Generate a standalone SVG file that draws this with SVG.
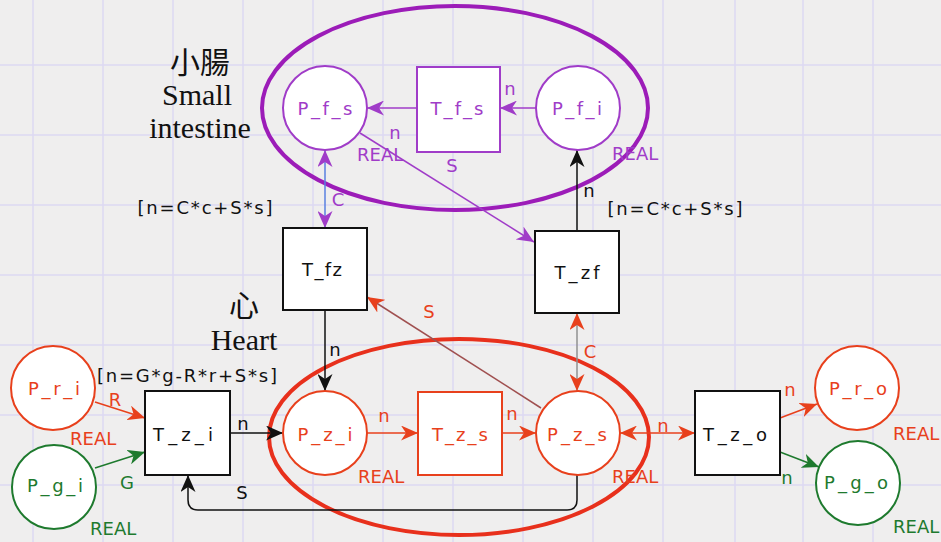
<svg xmlns="http://www.w3.org/2000/svg" width="941" height="542" viewBox="0 0 941 542">
<defs>
<style>
.grid line{stroke:#dcd8f2;stroke-width:1.5}
.lbl{font-family:"DejaVu Sans",Verdana,sans-serif;font-size:18px;text-anchor:middle}
.real{font-family:"DejaVu Sans",Verdana,sans-serif;font-size:18px}
.pu{fill:#a03cc8}.rd{fill:#e8401c}.gr{fill:#1e7a2e}.bk{fill:#111}
.node{fill:#fff;stroke-width:2}
.spu{stroke:#a03cc8}.srd{stroke:#e8401c}.sgr{stroke:#1e7a2e}.sbk{stroke:#111}
.serif{font-family:"Liberation Serif","Noto Sans CJK TC",serif;font-size:30px;fill:#111;text-anchor:middle}
.arc{fill:none;stroke-width:1.5}
</style>
<marker id="aPu" viewBox="0 0 17 15" refX="17" refY="7.5" markerWidth="17" markerHeight="15" markerUnits="userSpaceOnUse" orient="auto-start-reverse"><path d="M0,0 L17,7.5 L0,15 L5,7.5 Z" fill="#a03cc8"/></marker>
<marker id="aRd" viewBox="0 0 17 15" refX="17" refY="7.5" markerWidth="17" markerHeight="15" markerUnits="userSpaceOnUse" orient="auto-start-reverse"><path d="M0,0 L17,7.5 L0,15 L5,7.5 Z" fill="#e8401c"/></marker>
<marker id="aBk" viewBox="0 0 17 15" refX="17" refY="7.5" markerWidth="17" markerHeight="15" markerUnits="userSpaceOnUse" orient="auto-start-reverse"><path d="M0,0 L17,7.5 L0,15 L5,7.5 Z" fill="#111"/></marker>
<marker id="aGr" viewBox="0 0 17 15" refX="17" refY="7.5" markerWidth="17" markerHeight="15" markerUnits="userSpaceOnUse" orient="auto-start-reverse"><path d="M0,0 L17,7.5 L0,15 L5,7.5 Z" fill="#1e7a2e"/></marker>
</defs>
<rect width="941" height="542" fill="#efeeee"/>
<g class="grid">
<line x1="33" y1="0" x2="33" y2="542"/><line x1="103" y1="0" x2="103" y2="542"/><line x1="173" y1="0" x2="173" y2="542"/><line x1="243" y1="0" x2="243" y2="542"/><line x1="313" y1="0" x2="313" y2="542"/><line x1="383" y1="0" x2="383" y2="542"/><line x1="453" y1="0" x2="453" y2="542"/><line x1="523" y1="0" x2="523" y2="542"/><line x1="593" y1="0" x2="593" y2="542"/><line x1="663" y1="0" x2="663" y2="542"/><line x1="735" y1="0" x2="735" y2="542"/><line x1="803" y1="0" x2="803" y2="542"/><line x1="873" y1="0" x2="873" y2="542"/>
<line x1="0" y1="65" x2="941" y2="65"/><line x1="0" y1="135" x2="941" y2="135"/><line x1="0" y1="205" x2="941" y2="205"/><line x1="0" y1="275" x2="941" y2="275"/><line x1="0" y1="345" x2="941" y2="345"/><line x1="0" y1="415" x2="941" y2="415"/><line x1="0" y1="485" x2="941" y2="485"/>
</g>

<g id="region-small-intestine">
<ellipse cx="455" cy="108" rx="193" ry="102" fill="none" stroke="#9c1cb8" stroke-width="4"/>
<text class="serif" x="200" y="73">小腸</text>
<text class="serif" x="197" y="105">Small</text>
<text class="serif" x="200" y="138">intestine</text>
</g>
<g id="region-heart">
<ellipse cx="459" cy="437" rx="190" ry="98" fill="none" stroke="#e8301c" stroke-width="4"/>
<text class="serif" x="244" y="316">心</text>
<text class="serif" x="244" y="350">Heart</text>
</g>

<g id="connectors">
<line class="arc spu" x1="417" y1="108" x2="367" y2="108" marker-end="url(#aPu)"/>
<line class="arc spu" x1="536" y1="108" x2="500" y2="108" marker-end="url(#aPu)"/>
<line class="arc" stroke="#5a80e0" x1="325" y1="150" x2="325" y2="228" marker-start="url(#aPu)" marker-end="url(#aPu)"/>
<line class="arc spu" stroke-width="1" x1="360" y1="133" x2="534" y2="242" marker-end="url(#aPu)"/>
<line class="arc sbk" x1="577" y1="231" x2="577" y2="150" marker-end="url(#aBk)"/>
<line class="arc sbk" x1="325" y1="310" x2="325" y2="391" marker-end="url(#aBk)"/>
<line class="arc" stroke="#a05050" stroke-width="1" x1="541" y1="408" x2="367" y2="297" marker-end="url(#aRd)"/>
<line class="arc" stroke="#909090" x1="577" y1="313" x2="577" y2="391" marker-start="url(#aRd)" marker-end="url(#aRd)"/>
<line class="arc srd" x1="367" y1="433" x2="418" y2="433" marker-end="url(#aRd)"/>
<line class="arc srd" x1="502" y1="433" x2="536" y2="433" marker-end="url(#aRd)"/>
<line class="arc sbk" x1="230" y1="433" x2="283" y2="433" marker-end="url(#aBk)"/>
<path class="arc sbk" d="M577,475 L577,500 Q577,510 567,510 L198,510 Q188,510 188,500 L188,475" marker-end="url(#aBk)"/>
<line class="arc srd" x1="620" y1="433" x2="695" y2="433" marker-start="url(#aRd)" marker-end="url(#aRd)"/>
<line class="arc srd" x1="780" y1="418" x2="817" y2="404" marker-end="url(#aRd)"/>
<line class="arc sgr" x1="780" y1="452" x2="819" y2="467" marker-end="url(#aGr)"/>
<line class="arc srd" x1="95" y1="402" x2="145" y2="418" marker-end="url(#aRd)"/>
<line class="arc sgr" x1="95" y1="468" x2="145" y2="452" marker-end="url(#aGr)"/>
<g class="lbl">
<text class="pu" x="395" y="139">n</text>
<text class="pu" x="510" y="95">n</text>
<text class="pu" x="452" y="172">S</text>
<text class="pu" x="338" y="206">C</text>
<text class="bk" x="589" y="197">n</text>
<text class="bk" x="335" y="356">n</text>
<text class="rd" x="429" y="318">S</text>
<text class="rd" x="590" y="358">C</text>
<text class="rd" x="384" y="422">n</text>
<text class="rd" x="512" y="420">n</text>
<text class="bk" x="243" y="430">n</text>
<text class="bk" x="242" y="499">S</text>
<text class="rd" x="115" y="406">R</text>
<text class="gr" x="127" y="489">G</text>
<text class="rd" x="663" y="432">n</text>
<text class="rd" x="790" y="396">n</text>
<text class="gr" x="787" y="484">n</text>
</g>
</g>

<g id="P_f_s"><circle class="node spu" cx="325" cy="108" r="42"/><text class="lbl pu" x="325" y="115" textLength="55">P_f_s</text><text class="real pu" x="357" y="161">REAL</text></g>
<g id="T_f_s"><rect class="node spu" x="417" y="67" width="83" height="85"/><text class="lbl pu" x="457" y="115" textLength="53">T_f_s</text></g>
<g id="P_f_i"><circle class="node spu" cx="578" cy="108" r="42"/><text class="lbl pu" x="577" y="115" textLength="50">P_f_i</text><text class="real pu" x="612" y="160">REAL</text></g>
<g id="T_fz"><rect class="node sbk" x="283" y="228" width="84" height="82"/><text class="lbl bk" x="322" y="276" textLength="40">T_fz</text></g>
<g id="T_zf"><rect class="node sbk" x="535" y="231" width="84" height="82"/><text class="lbl bk" x="577" y="279" textLength="45">T_zf</text></g>
<g id="P_z_i"><circle class="node srd" cx="325" cy="433" r="42"/><text class="lbl rd" x="325" y="441" textLength="55">P_z_i</text><text class="real rd" x="358" y="483">REAL</text></g>
<g id="T_z_s"><rect class="node srd" x="418" y="392" width="84" height="83"/><text class="lbl rd" x="460" y="441" textLength="56">T_z_s</text></g>
<g id="P_z_s"><circle class="node srd" cx="578" cy="433" r="42"/><text class="lbl rd" x="577" y="441" textLength="60">P_z_s</text><text class="real rd" x="612" y="483">REAL</text></g>
<g id="T_z_i"><rect class="node sbk" x="145" y="391" width="85" height="84"/><text class="lbl bk" x="183" y="441" textLength="60">T_z_i</text><text class="lbl bk" x="187" y="382" textLength="180">[n=G*g-R*r+S*s]</text></g>
<g id="T_z_o"><rect class="node sbk" x="695" y="391" width="85" height="84"/><text class="lbl bk" x="735" y="441" textLength="64">T_z_o</text></g>
<g id="P_r_i"><circle class="node srd" cx="53" cy="388" r="42"/><text class="lbl rd" x="54" y="395" textLength="52">P_r_i</text><text class="real rd" x="70" y="445">REAL</text></g>
<g id="P_g_i"><circle class="node sgr" cx="54" cy="487" r="42"/><text class="lbl gr" x="55" y="492" textLength="56">P_g_i</text><text class="real gr" x="90" y="535">REAL</text></g>
<g id="P_r_o"><circle class="node srd" cx="857" cy="388" r="42"/><text class="lbl rd" x="858" y="395" textLength="58">P_r_o</text><text class="real rd" x="893" y="440">REAL</text></g>
<g id="P_g_o"><circle class="node sgr" cx="858" cy="483" r="42"/><text class="lbl gr" x="856" y="489" textLength="64">P_g_o</text><text class="real gr" x="893" y="533">REAL</text></g>
<g id="guards"><text class="lbl bk" x="205" y="214" textLength="135">[n=C*c+S*s]</text><text class="lbl bk" x="675" y="215" textLength="135">[n=C*c+S*s]</text></g>
</svg>
